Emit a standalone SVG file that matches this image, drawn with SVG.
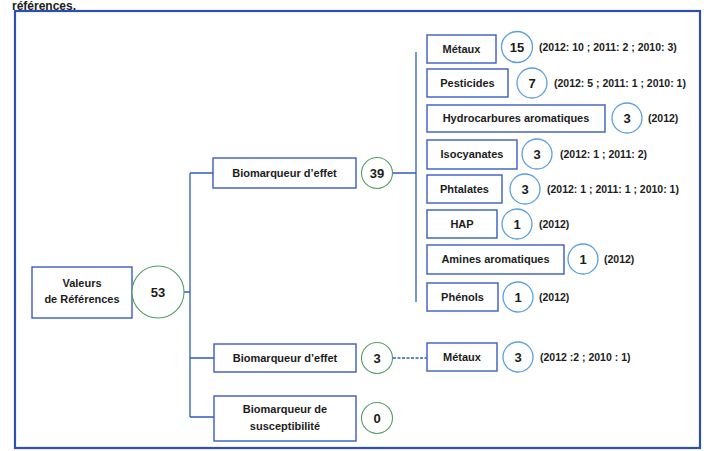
<svg xmlns="http://www.w3.org/2000/svg" width="707" height="451" viewBox="0 0 707 451">
<style>
.box{fill:#fff;stroke:#3a5cc4;stroke-width:1.4}
.cb{fill:#fff;stroke:#5aa0e0;stroke-width:1.3}
.cg{fill:#fff;stroke:#4f9e62;stroke-width:1.1}
.t{font-family:"Liberation Sans",Arial,sans-serif;font-weight:bold;font-size:11px;fill:#1c1c1c;text-anchor:middle}
.n{font-family:"Liberation Sans",Arial,sans-serif;font-weight:bold;font-size:13px;fill:#1c1c1c;text-anchor:middle}
.y{font-family:"Liberation Sans",Arial,sans-serif;font-weight:bold;font-size:10.5px;fill:#1c1c1c}
.ln{fill:none;stroke:#2f5cc0;stroke-width:1.3}
</style>
<rect width="707" height="451" fill="#fff"/>
<text x="12" y="9.5" font-family="Liberation Sans,Arial,sans-serif" font-weight="bold" font-size="12" fill="#222">références.</text>
<rect x="15" y="11" width="685" height="437" fill="none" stroke="#2c4fb0" stroke-width="2.2"/>

<g id="connectors">
<path class="ln" d="M184 292 H190 M190 173 V417 M190 173 H213 M190 358 H214 M190 417 H214"/>
<path class="ln" d="M393 173 H416 M416 52 V302"/>
<path class="ln" d="M393 358 H427" stroke-dasharray="3 1.5"/>
</g>

<g id="valeurs">
<rect class="box" x="32" y="267" width="100" height="51"/>
<text class="t" x="82" y="287">Valeurs</text>
<text class="t" x="82" y="303">de Références</text>
<circle class="cg" cx="158" cy="292" r="26"/>
<text class="n" x="158" y="297" font-size="14">53</text>
</g>

<g id="bio-effet-1">
<rect class="box" x="213" y="158" width="143" height="30"/>
<text class="t" x="284.5" y="177">Biomarqueur d’effet</text>
<circle class="cg" cx="377" cy="173" r="15.5"/>
<text class="n" x="377" y="178">39</text>
</g>

<g id="bio-effet-2">
<rect class="box" x="214" y="344" width="142" height="28"/>
<text class="t" x="285" y="362">Biomarqueur d’effet</text>
<circle class="cg" cx="377" cy="358" r="15.5"/>
<text class="n" x="377" y="363">3</text>
</g>

<g id="bio-susc">
<rect class="box" x="214" y="396" width="142" height="45"/>
<text class="t" x="285" y="413">Biomarqueur de</text>
<text class="t" x="285" y="430">susceptibilité</text>
<circle class="cg" cx="377" cy="418" r="15.5"/>
<text class="n" x="377" y="423">0</text>
</g>

<g id="metaux">
<rect class="box" x="427" y="35" width="69" height="28"/>
<text class="t" x="461.5" y="53">Métaux</text>
<circle class="cb" cx="517" cy="47" r="15.5"/>
<text class="n" x="517" y="52">15</text>
<text class="y" x="539" y="51">(2012: 10 ; 2011: 2 ; 2010: 3)</text>
</g>

<g id="pesticides">
<rect class="box" x="427" y="69" width="81" height="28"/>
<text class="t" x="467.5" y="87">Pesticides</text>
<circle class="cb" cx="532" cy="83" r="15"/>
<text class="n" x="532" y="88">7</text>
<text class="y" x="554" y="87">(2012: 5 ; 2011: 1 ; 2010: 1)</text>
</g>

<g id="hydrocarbures">
<rect class="box" x="427" y="105" width="178" height="27"/>
<text class="t" x="516" y="122">Hydrocarbures aromatiques</text>
<circle class="cb" cx="627" cy="118" r="15"/>
<text class="n" x="627" y="123">3</text>
<text class="y" x="648" y="122">(2012)</text>
</g>

<g id="isocyanates">
<rect class="box" x="427" y="140" width="90" height="29"/>
<text class="t" x="472" y="158">Isocyanates</text>
<circle class="cb" cx="537" cy="154" r="15"/>
<text class="n" x="537" y="159">3</text>
<text class="y" x="560" y="158">(2012: 1 ; 2011: 2)</text>
</g>

<g id="phtalates">
<rect class="box" x="427" y="175" width="75" height="28"/>
<text class="t" x="464.5" y="193">Phtalates</text>
<circle class="cb" cx="525" cy="189" r="15"/>
<text class="n" x="525" y="194">3</text>
<text class="y" x="547" y="193">(2012: 1 ; 2011: 1 ; 2010: 1)</text>
</g>

<g id="hap">
<rect class="box" x="427" y="210" width="70" height="28"/>
<text class="t" x="462" y="228">HAP</text>
<circle class="cb" cx="517" cy="224" r="15"/>
<text class="n" x="517" y="229">1</text>
<text class="y" x="539" y="228">(2012)</text>
</g>

<g id="amines">
<rect class="box" x="427" y="245" width="137" height="29"/>
<text class="t" x="495.5" y="263">Amines aromatiques</text>
<circle class="cb" cx="583" cy="259" r="15"/>
<text class="n" x="583" y="264">1</text>
<text class="y" x="604" y="263">(2012)</text>
</g>

<g id="phenols">
<rect class="box" x="427" y="283" width="71" height="28"/>
<text class="t" x="462.5" y="301">Phénols</text>
<circle class="cb" cx="518" cy="297" r="15"/>
<text class="n" x="518" y="302">1</text>
<text class="y" x="539" y="301">(2012)</text>
</g>

<g id="metaux-2">
<rect class="box" x="427" y="343" width="70" height="28"/>
<text class="t" x="462" y="361">Métaux</text>
<circle class="cb" cx="518" cy="357" r="15"/>
<text class="n" x="518" y="362">3</text>
<text class="y" x="540" y="361">(2012 :2 ; 2010 : 1)</text>
</g>
</svg>
